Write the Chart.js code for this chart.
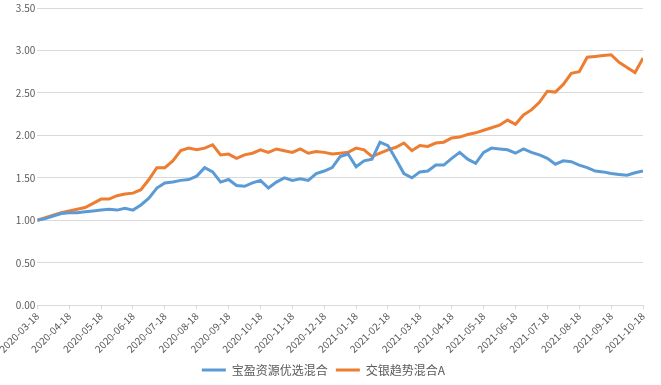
<!DOCTYPE html>
<html>
<head>
<meta charset="utf-8">
<script src="https://cdn.jsdelivr.net/npm/chart.js@4/dist/chart.umd.min.js"></script>
<style>
html,body{margin:0;padding:0;background:#fff;}
#wrap{width:661px;height:385px;position:relative;}
</style>
</head>
<body>
<div id="wrap"><canvas id="c"></canvas></div>
<script>
// Month tick labels (one per month)
const monthLabels = ["2020-03-18","2020-04-18","2020-05-18","2020-06-18","2020-07-18","2020-08-18","2020-09-18","2020-10-18","2020-11-18","2020-12-18","2021-01-18","2021-02-18","2021-03-18","2021-04-18","2021-05-18","2021-06-18","2021-07-18","2021-08-18","2021-09-18","2021-10-18"];
// Series names
const seriesNames = ["宝盈资源优选混合","交银趋势混合A"];
// Sampled every quarter month (4 samples per month)
const pointsPerMonth = 4;
const blueValues = [1.00,1.02,1.05,1.08,1.09,1.09,1.10,1.11,1.12,1.13,1.12,1.14,1.12,1.18,1.26,1.38,1.44,1.45,1.47,1.48,1.52,1.62,1.57,1.45,1.48,1.41,1.40,1.44,1.47,1.38,1.45,1.50,1.47,1.49,1.47,1.55,1.58,1.62,1.75,1.78,1.63,1.70,1.72,1.92,1.88,1.72,1.55,1.50,1.57,1.58,1.65,1.65,1.73,1.80,1.72,1.67,1.80,1.85,1.84,1.83,1.79,1.84,1.80,1.77,1.73,1.66,1.70,1.69,1.65,1.62,1.58,1.57,1.55,1.54,1.53,1.56,1.58];
const orangeValues = [1.00,1.03,1.06,1.09,1.11,1.13,1.15,1.20,1.25,1.25,1.29,1.31,1.32,1.36,1.48,1.62,1.62,1.70,1.82,1.85,1.83,1.85,1.89,1.77,1.78,1.73,1.77,1.79,1.83,1.80,1.84,1.82,1.80,1.84,1.79,1.81,1.80,1.78,1.79,1.80,1.85,1.83,1.75,1.79,1.83,1.86,1.91,1.82,1.88,1.87,1.91,1.92,1.97,1.98,2.01,2.03,2.06,2.09,2.12,2.18,2.13,2.24,2.30,2.39,2.52,2.51,2.60,2.73,2.75,2.92,2.93,2.94,2.95,2.86,2.80,2.74,2.91];
// Y ticks
const yMin = 0, yMax = 3.5, yStep = 0.5;

const toPoints = arr => arr.map((v,i)=>({x:i/pointsPerMonth, y:v}));
const FONT = "'Noto Sans CJK SC','Noto Sans',sans-serif";

new Chart(document.getElementById('c'), {
  type:'line',
  data:{
    datasets:[
      {label:seriesNames[0], data:toPoints(blueValues), borderColor:'#5b9bd5', backgroundColor:'#5b9bd5', borderWidth:3, pointRadius:0, tension:0, pointStyle:'line'},
      {label:seriesNames[1], data:toPoints(orangeValues), borderColor:'#ed7d31', backgroundColor:'#ed7d31', borderWidth:3, pointRadius:0, tension:0, pointStyle:'line'}
    ]
  },
  options:{
    responsive:true, maintainAspectRatio:false, animation:false,
    layout:{padding:{top:0,right:18,left:4,bottom:-1}},
    plugins:{
      legend:{position:'bottom', labels:{usePointStyle:true, pointStyleWidth:24, color:'#595959', font:{family:FONT,size:12}, padding:8}},
      tooltip:{enabled:false}
    },
    scales:{
      x:{type:'linear', min:0, max:monthLabels.length-1,
        ticks:{stepSize:1, autoSkip:false, maxRotation:45, minRotation:45, color:'#595959', font:{family:FONT,size:10}, padding:1,
          callback:(v)=>monthLabels[v] ?? ''},
        grid:{drawOnChartArea:false, drawTicks:true, tickLength:4, color:'#d9d9d9'},
        border:{color:'#d9d9d9'}
      },
      y:{min:yMin, max:yMax,
        afterFit:(s)=>{s.width += 8;},
        ticks:{stepSize:yStep, color:'#595959', font:{family:FONT,size:10}, padding:2, callback:(v)=>Number(v).toFixed(2)},
        grid:{color:'#d9d9d9', drawTicks:false},
        border:{display:false}
      }
    }
  }
});
</script>
</body>
</html>
